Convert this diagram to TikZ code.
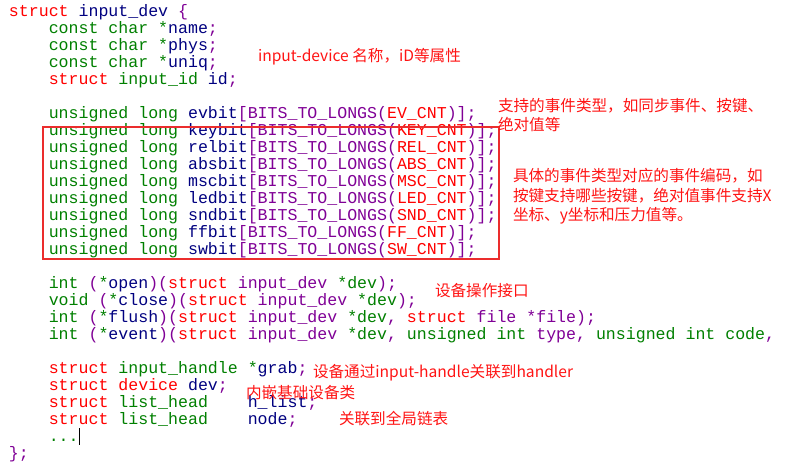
\documentclass[tikz,border=0pt]{standalone}
\usepackage{fontspec}
\newfontfamily\codefont{Liberation Mono}
\newfontfamily\cjkfont{Noto Sans CJK SC}
\definecolor{kwred}{RGB}{255,0,0}
\definecolor{kwgreen}{RGB}{0,128,0}
\definecolor{kwnavy}{RGB}{0,0,128}
\definecolor{kwpurple}{RGB}{128,0,150}
\definecolor{noteRed}{RGB}{255,20,20}
\definecolor{boxRed}{RGB}{235,45,45}
\newcommand\cR[1]{\textcolor{kwred}{#1}}
\newcommand\cG[1]{\textcolor{kwgreen}{#1}}
\newcommand\cN[1]{\textcolor{kwnavy}{#1}}
\newcommand\cP[1]{\textcolor{kwpurple}{#1}}
\tikzset{
  codeline/.style={anchor=base west, inner sep=0pt, outer sep=0pt,
    font=\codefont\fontsize{16.58}{17}\selectfont},
  note/.style={anchor=base west, inner sep=0pt, outer sep=0pt, text=noteRed,
    font=\cjkfont\fontsize{15.6}{19}\selectfont},
}
\begin{document}
\begin{tikzpicture}[x=1pt,y=-1pt]
\useasboundingbox[fill=white] (0,0) rectangle (785,463);
% code lines: baseline = 16.5 + 17*i
\node[codeline] (l0) at (9,16.5) {\cR{struct} \cN{input\_dev} \cP{\{}};
\node[codeline] (l1) at (48.8,33.5) {\cG{const char *}\cN{name}\cP{;}};
\node[codeline] (l2) at (48.8,50.5) {\cG{const char *}\cN{phys}\cP{;}};
\node[codeline] (l3) at (48.8,67.5) {\cG{const char *}\cN{uniq}\cP{;}};
\node[codeline] (l4) at (48.8,84.5) {\cR{struct} \cG{input\_id} \cN{id}\cP{;}};
\node[codeline] (l6) at (48.8,118.5) {\cG{unsigned long} \cN{evbit}\cP{[BITS\_TO\_LONGS(}\cR{EV\_CNT}\cP{)];}};
\node[codeline] (l7) at (48.8,135.5) {\cG{unsigned long} \cN{keybit}\cP{[BITS\_TO\_LONGS(}\cR{KEY\_CNT}\cP{)];}};
\node[codeline] (l8) at (48.8,152.5) {\cG{unsigned long} \cN{relbit}\cP{[BITS\_TO\_LONGS(}\cR{REL\_CNT}\cP{)];}};
\node[codeline] (l9) at (48.8,169.5) {\cG{unsigned long} \cN{absbit}\cP{[BITS\_TO\_LONGS(}\cR{ABS\_CNT}\cP{)];}};
\node[codeline] (l10) at (48.8,186.5) {\cG{unsigned long} \cN{mscbit}\cP{[BITS\_TO\_LONGS(}\cR{MSC\_CNT}\cP{)];}};
\node[codeline] (l11) at (48.8,203.5) {\cG{unsigned long} \cN{ledbit}\cP{[BITS\_TO\_LONGS(}\cR{LED\_CNT}\cP{)];}};
\node[codeline] (l12) at (48.8,220.5) {\cG{unsigned long} \cN{sndbit}\cP{[BITS\_TO\_LONGS(}\cR{SND\_CNT}\cP{)];}};
\node[codeline] (l13) at (48.8,237.5) {\cG{unsigned long} \cN{ffbit}\cP{[BITS\_TO\_LONGS(}\cR{FF\_CNT}\cP{)];}};
\node[codeline] (l14) at (48.8,254.5) {\cG{unsigned long} \cN{swbit}\cP{[BITS\_TO\_LONGS(}\cR{SW\_CNT}\cP{)];}};
\node[codeline] (l16) at (48.8,288.5) {\cG{int} \cP{(}\cG{*}\cN{open}\cP{)(}\cR{struct} \cP{input\_dev} \cG{*dev}\cP{);}};
\node[codeline] (l17) at (48.8,305.5) {\cG{void} \cP{(}\cG{*}\cN{close}\cP{)(}\cR{struct} \cP{input\_dev} \cG{*dev}\cP{);}};
\node[codeline] (l18) at (48.8,322.5) {\cG{int} \cP{(}\cG{*}\cN{flush}\cP{)(}\cR{struct} \cP{input\_dev} \cG{*dev}\cP{,} \cR{struct} \cP{file *file);}};
\node[codeline] (l19) at (48.8,339.5) {\cG{int} \cP{(}\cG{*}\cN{event}\cP{)(}\cR{struct} \cP{input\_dev} \cG{*dev}\cP{,} \cG{unsigned int} \cP{type,} \cG{unsigned int code}\cP{,}};
\node[codeline] (l21) at (48.8,373.5) {\cR{struct} \cG{input\_handle} \cG{*}\cN{grab}\cP{;}};
\node[codeline] (l22) at (48.8,390.5) {\cR{struct device} \cN{dev}\cP{;}};
\node[codeline] (l23) at (48.8,407.5) {\cR{struct} \cG{list\_head}\ \ \ \ \cN{h\_list}\cP{;}};
\node[codeline] (l24) at (48.8,424.5) {\cR{struct} \cG{list\_head}\ \ \ \ \cN{node}\cP{;}};
\node[codeline] (l25) at (48.8,441.5) {\cG{...}};
\node[codeline] (l26) at (9,458.5) {\cP{\};}};
% text cursor
\draw[line width=1.6pt, black] ([xshift=1pt,yshift=-3pt]l25.base east) -- ([xshift=1pt,yshift=13.5pt]l25.base east);
% red frame
\draw[boxRed, line width=1.3pt] (43,127) rectangle (499,259);
% annotations
\node[note] (n1) at (258,61) {input-device 名称，iD等属性};
\node[note] (n2a) at (498,111) {支持的事件类型，如同步事件、按键、};
\node[note] (n2b) at (498,130) {绝对值等};
\node[note] (n3a) at (513,181) {具体的事件类型对应的事件编码，如};
\node[note] (n3b) at (513,201) {按键支持哪些按键，绝对值事件支持X};
\node[note] (n3c) at (513,220.5) {坐标、y坐标和压力值等。};
\node[note] (n4) at (435,296) {设备操作接口};
\node[note] (n5) at (313,377) {设备通过input-handle关联到handler};
\node[note] (n6) at (246,398) {内嵌基础设备类};
\node[note] (n7) at (339,424) {关联到全局链表};
\end{tikzpicture}
\end{document}
